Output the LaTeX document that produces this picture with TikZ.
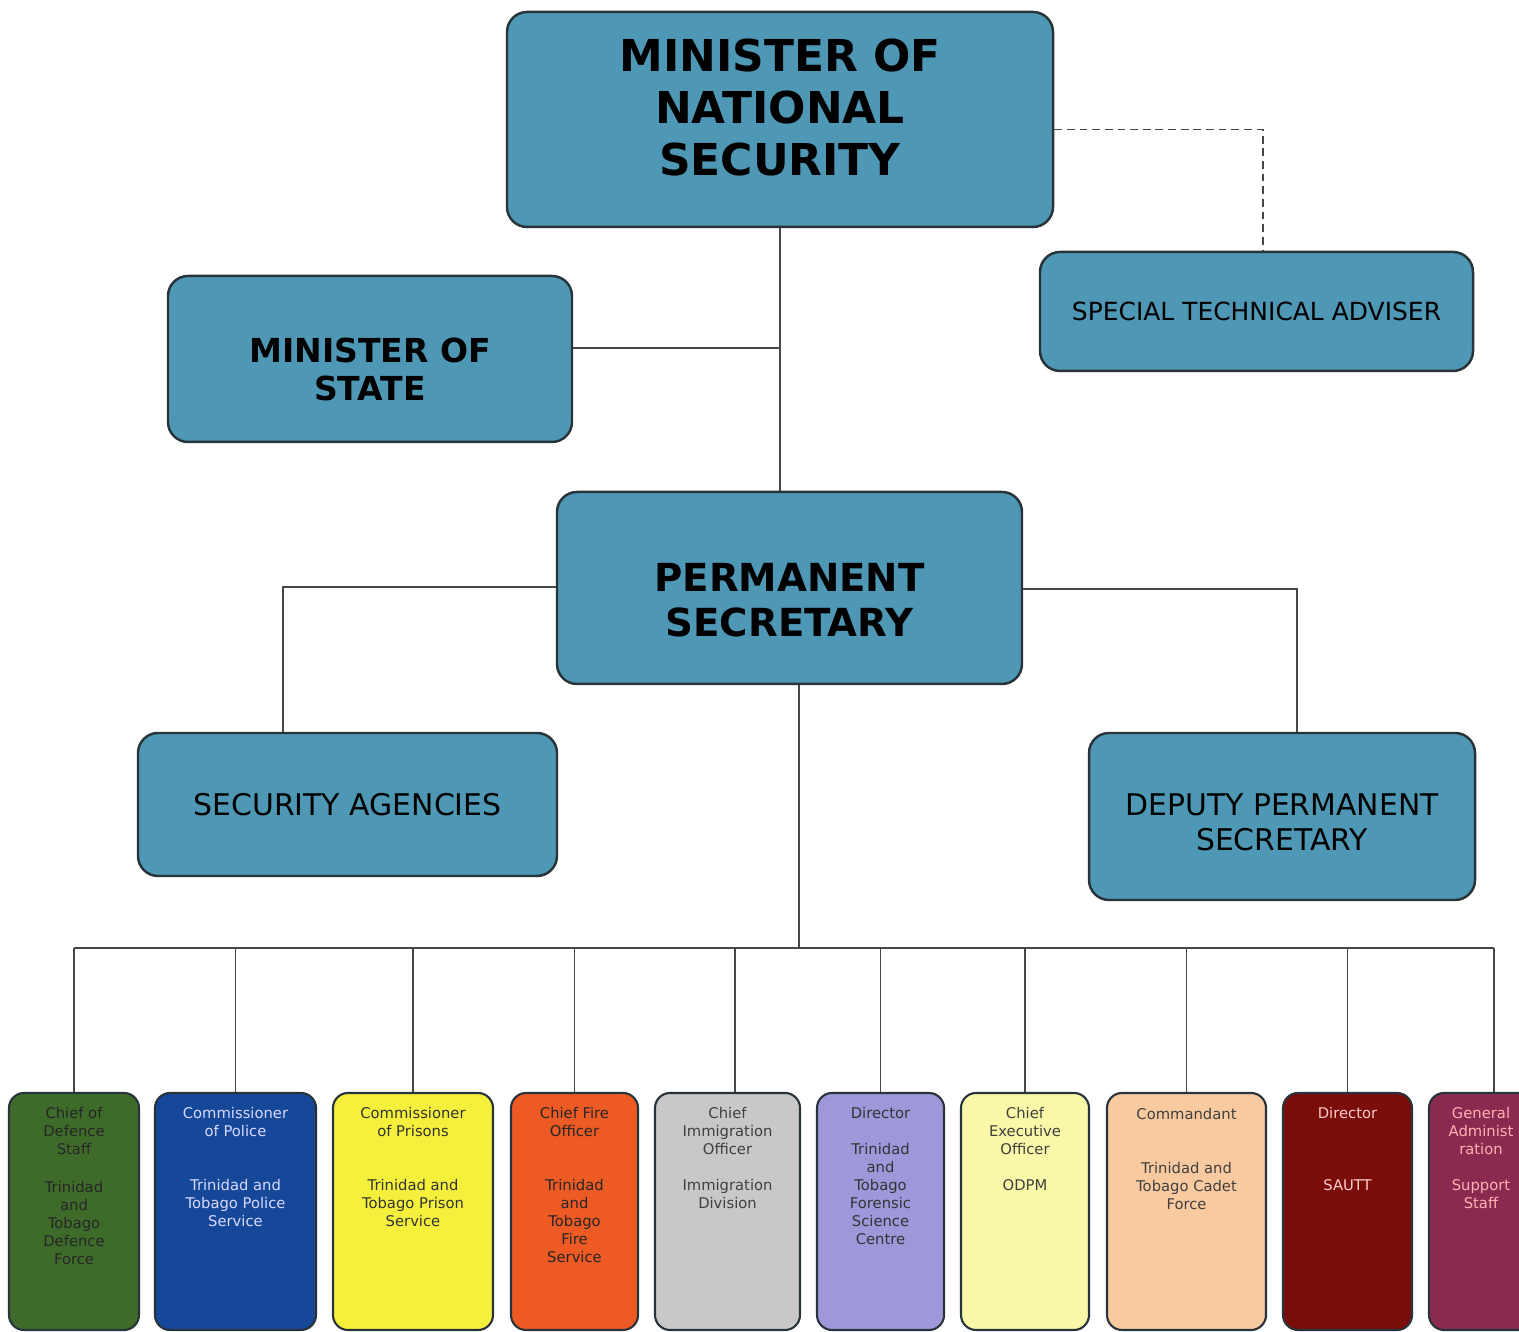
\documentclass[tikz,border=0pt]{standalone}
\usepackage{fontspec}
\setmainfont{DejaVu Sans}
\definecolor{steel}{RGB}{78,152,181}
\definecolor{frame}{RGB}{40,52,58}
\definecolor{wire}{RGB}{70,70,70}
\definecolor{ttdf}{RGB}{62,107,42}
\definecolor{ttps}{RGB}{22,72,154}
\definecolor{prison}{RGB}{245,240,60}
\definecolor{fire}{RGB}{238,90,36}
\definecolor{immig}{RGB}{200,200,200}
\definecolor{forensic}{RGB}{158,152,218}
\definecolor{odpm}{RGB}{248,248,168}
\definecolor{cadet}{RGB}{249,201,160}
\definecolor{sautt}{RGB}{122,12,10}
\definecolor{admin}{RGB}{138,42,80}

\tikzset{
  topbox/.style={draw=frame, line width=0.7pt, fill=steel, rounded corners=0.2cm,
    align=center, inner sep=0pt},
  unitbox/.style={draw=frame, line width=0.6pt, rounded corners=0.15cm,
    minimum height=2.37cm, inner sep=0pt},
  unittext/.style={anchor=north, align=center, inner sep=0pt,
    font=\fontsize{4.2}{5.1}\selectfont},
  link/.style={draw=wire, line width=0.5pt}
}

\begin{document}
\begin{tikzpicture}

	\useasboundingbox (0,0) rectangle (15.19,13.32);
	\clip (0,0) rectangle (15.19,13.32);

	% upper boxes
	\node[topbox, minimum width=5.46cm, minimum height=2.15cm, text depth=6.8pt,
	  font=\fontsize{12.5}{14.8}\bfseries\selectfont] (mns) at (7.80,12.125)
	  {MINISTER OF\\NATIONAL\\SECURITY};

	\node[topbox, minimum width=4.33cm, minimum height=1.19cm,
	  font=\fontsize{7.1}{9}\selectfont] (sta) at (12.565,10.205)
	  {SPECIAL TECHNICAL ADVISER};

	\node[topbox, minimum width=4.04cm, minimum height=1.66cm,
	  font=\fontsize{9.4}{10.8}\bfseries\selectfont] (mos) at (3.70,9.73)
	  {\rule{0pt}{13pt}MINISTER OF\\STATE};

	\node[topbox, minimum width=4.65cm, minimum height=1.92cm,
	  font=\fontsize{11}{12.8}\bfseries\selectfont] (ps) at (7.895,7.44)
	  {\rule{0pt}{14.8pt}PERMANENT\\SECRETARY};

	\node[topbox, minimum width=4.19cm, minimum height=1.43cm,
	  font=\fontsize{8.5}{10}\selectfont] (sa) at (3.475,5.275)
	  {SECURITY AGENCIES};

	\node[topbox, minimum width=3.86cm, minimum height=1.67cm,
	  font=\fontsize{8.5}{10}\selectfont] (dps) at (12.82,5.155)
	  {\rule{0pt}{9.6pt}DEPUTY PERMANENT\\SECRETARY};

	% connectors above
	\draw[link] (mns.south) -- (mns.south |- ps.north);
	\draw[link] ([yshift=1.1mm]mos.east) -- ([yshift=1.1mm]mos.east -| mns.south);
	\draw[link, dash pattern=on 2.2pt off 1.4pt] ([yshift=-1mm]mns.east) -| ([xshift=0.65mm]sta.north);
	\draw[link] ([yshift=0.1mm]ps.west) -| ([xshift=-6.45mm]sa.north);
	\draw[link] ([yshift=-0.1mm]ps.east) -| ([xshift=1.5mm]dps.north);

	% units
	\node[unitbox, fill=ttdf, minimum width=1.30cm] (u1) at (0.74,1.205) {};
	\node[unitbox, fill=ttps, minimum width=1.61cm] (u2) at (2.355,1.205) {};
	\node[unitbox, fill=prison, minimum width=1.60cm] (u3) at (4.13,1.205) {};
	\node[unitbox, fill=fire, minimum width=1.27cm] (u4) at (5.745,1.205) {};
	\node[unitbox, fill=immig, minimum width=1.45cm] (u5) at (7.275,1.205) {};
	\node[unitbox, fill=forensic, minimum width=1.27cm] (u6) at (8.805,1.205) {};
	\node[unitbox, fill=odpm, minimum width=1.28cm] (u7) at (10.25,1.205) {};
	\node[unitbox, fill=cadet, minimum width=1.59cm] (u8) at (11.865,1.205) {};
	\node[unitbox, fill=sautt, minimum width=1.29cm] (u9) at (13.475,1.205) {};
	\node[unitbox, fill=admin, minimum width=1.30cm] (u10) at (14.94,1.205) {};

	\node[unittext, text=black!85] (t1) at ([yshift=-1.5mm]u1.north)
	  {Chief of\\Defence\\Staff\\[5.7pt]Trinidad\\and\\Tobago\\Defence\\Force};
	\node[unittext, text=white!85!blue] (t2) at ([yshift=-1.5mm]u2.north)
	  {Commissioner\\of Police\\[10.2pt]Trinidad and\\Tobago Police\\Service};
	\node[unittext, text=black!80] (t3) at ([yshift=-1.5mm]u3.north)
	  {Commissioner\\of Prisons\\[10.2pt]Trinidad and\\Tobago Prison\\Service};
	\node[unittext, text=black!85] (t4) at ([yshift=-1.5mm]u4.north)
	  {Chief Fire\\Officer\\[10.2pt]Trinidad\\and\\Tobago\\Fire\\Service};
	\node[unittext, text=black!75] (t5) at ([yshift=-1.5mm]u5.north)
	  {Chief\\Immigration\\Officer\\[5.1pt]Immigration\\Division};
	\node[unittext, text=black!80] (t6) at ([yshift=-1.5mm]u6.north)
	  {Director\\[5.1pt]Trinidad\\and\\Tobago\\Forensic\\Science\\Centre};
	\node[unittext, text=black!75] (t7) at ([yshift=-1.5mm]u7.north)
	  {Chief\\Executive\\Officer\\[5.1pt]ODPM};
	\node[unittext, text=black!75] (t8) at ([yshift=-1.6mm]u8.north)
	  {Commandant\\[10.2pt]Trinidad and\\Tobago Cadet\\Force};
	\node[unittext, text=red!20!white] (t9) at ([yshift=-1.5mm]u9.north)
	  {Director\\[15.3pt]SAUTT};
	\node[unittext, text=red!30!white] (t10) at ([xshift=-1.3mm, yshift=-1.5mm]u10.north)
	  {General\\Administ\\ration\\[5.1pt]Support\\Staff};

	% bus
	\coordinate (hub) at (7.99,3.84);
	\draw[link] (hub |- ps.south) -- (hub);
	\draw[link] (hub -| u1.north) -- (hub -| u10.north);
	\foreach \u in {u1,u2,u3,u4,u6,u7,u8,u9,u10}
	  \draw[link] (hub -| \u.north) -- (\u.north);
	\draw[link] ([xshift=0.75mm]u5.north |- hub) -- ([xshift=0.75mm]u5.north);

\end{tikzpicture}
\end{document}
